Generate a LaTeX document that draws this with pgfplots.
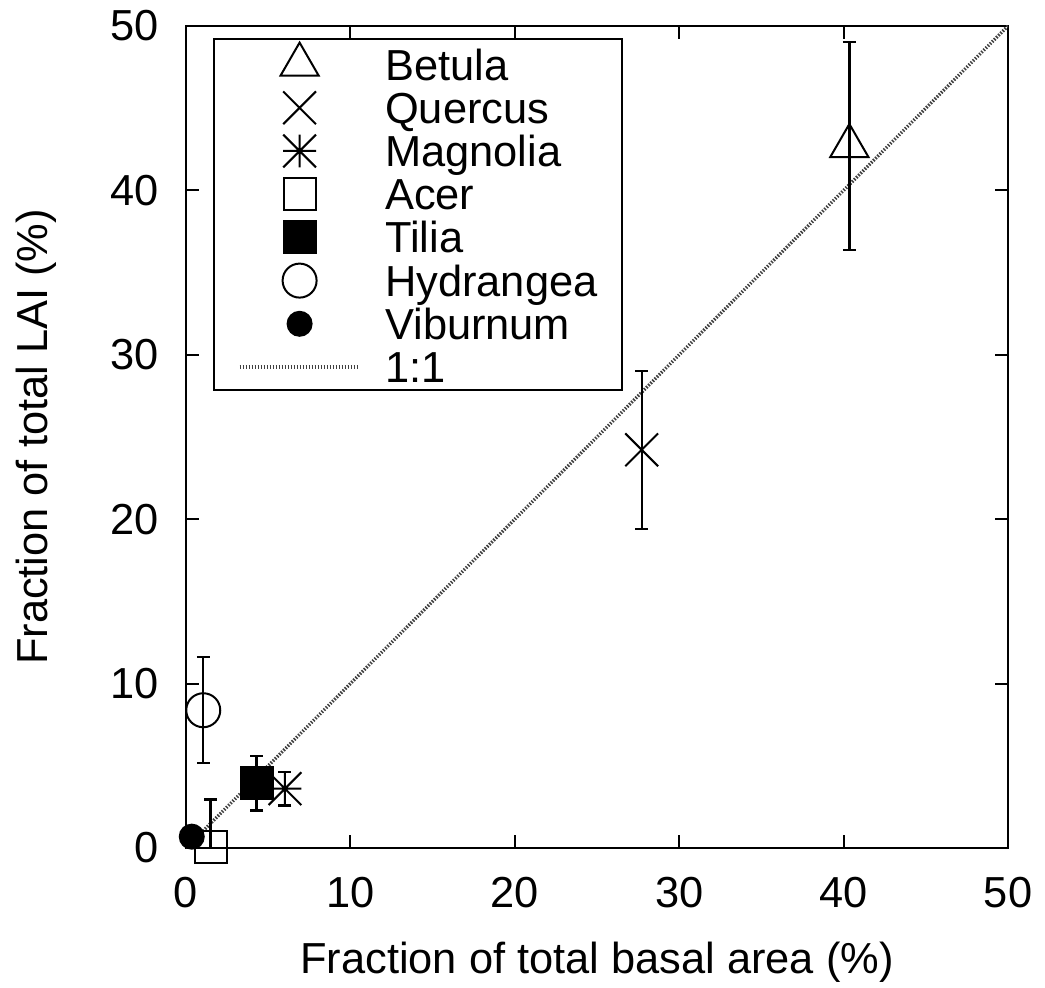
\documentclass[border=0pt]{standalone}
\usepackage{fontspec}
\setmainfont{Liberation Sans}
\usepackage{pgfplots}
\pgfplotsset{compat=1.18}
\newcommand\fsz{\fontsize{21.7}{26}\selectfont}
% gnuplot style asterisk: + and x together
\pgfdeclareplotmark{gpast}{%
  \pgfpathmoveto{\pgfqpoint{-\pgfplotmarksize}{0pt}}%
  \pgfpathlineto{\pgfqpoint{\pgfplotmarksize}{0pt}}%
  \pgfpathmoveto{\pgfqpoint{0pt}{-\pgfplotmarksize}}%
  \pgfpathlineto{\pgfqpoint{0pt}{\pgfplotmarksize}}%
  \pgfpathmoveto{\pgfqpoint{-\pgfplotmarksize}{-\pgfplotmarksize}}%
  \pgfpathlineto{\pgfqpoint{\pgfplotmarksize}{\pgfplotmarksize}}%
  \pgfpathmoveto{\pgfqpoint{-\pgfplotmarksize}{\pgfplotmarksize}}%
  \pgfpathlineto{\pgfqpoint{\pgfplotmarksize}{-\pgfplotmarksize}}%
  \pgfusepathqstroke}
% gnuplot style cross
\pgfdeclareplotmark{gpx}{%
  \pgfpathmoveto{\pgfqpoint{-\pgfplotmarksize}{-\pgfplotmarksize}}%
  \pgfpathlineto{\pgfqpoint{\pgfplotmarksize}{\pgfplotmarksize}}%
  \pgfpathmoveto{\pgfqpoint{-\pgfplotmarksize}{\pgfplotmarksize}}%
  \pgfpathlineto{\pgfqpoint{\pgfplotmarksize}{-\pgfplotmarksize}}%
  \pgfusepathqstroke}
\pgfplotsset{
  ebar/.style={error bars/.cd, y dir=both, y explicit,
    error bar style={line width=1.2pt, black},
    error mark options={line width=1.2pt, mark size=3.25pt, black, rotate=90}},
}
\begin{document}
\begin{tikzpicture}
\begin{axis}[
    scale only axis,
    width=411pt, height=411pt,
    xmin=0, xmax=50, ymin=0, ymax=50,
    xtick={0,10,...,50}, ytick={0,10,...,50},
    tick align=inside,
    major tick length=6.3pt,
    tick style={line width=1pt, black},
    axis line style={line width=1.1pt},
    /pgf/number format/assume math mode=true,
    tick label style={font=\fsz, inner sep=0pt},
    xticklabel style={yshift=-14.5pt},
    yticklabel style={xshift=-13.6pt},
    label style={font=\fsz},
    xlabel={Fraction of total basal area (\%)},
    ylabel={Fraction of total LAI (\%)},
    xlabel style={at={(axis description cs:0.5,-0.1387)}, anchor=center},
    ylabel style={at={(axis description cs:-0.1825,0.5)}, anchor=center},
    legend image code/.code={\draw[mark repeat=2,mark phase=2,yshift=-0.75pt,#1]
        plot coordinates {(0pt,0pt)(30pt,0pt)(60pt,0pt)};},
    legend cell align=left,
    legend style={at={(axis description cs:0,1)}, anchor=north west,
        xshift=13.5pt, yshift=-6pt, draw=black, line width=1pt,
        inner xsep=12pt, inner ysep=1.25pt, column sep=12pt, row sep=0pt,
        font=\fsz,
        nodes={inner sep=0pt, text height=19.35pt, text depth=2.25pt}},
]
% 1:1 line
\addplot[forget plot, black!75, line width=1.6pt, dash pattern=on 0.75pt off 0.75pt]
    coordinates {(0,0) (50,50)};

\addplot[only marks, black, mark=triangle, mark size=11pt,
    mark options={solid, line width=1pt}, ebar]
    coordinates {(40.35,42.7) +- (0,6.33)};
\addlegendentry{Betula}
\addplot[only marks, black, mark=gpx, mark size=8.2pt,
    mark options={solid, line width=1pt}, ebar]
    coordinates {(27.72,24.22) +- (0,4.81)};
\addlegendentry{Quercus}
\addplot[only marks, black, mark=gpast, mark size=8.2pt,
    mark options={solid, line width=1pt}, ebar]
    coordinates {(6.02,3.61) +- (0,1.03)};
\addlegendentry{Magnolia}
\addplot[only marks, black, mark=square, mark size=8pt,
    mark options={solid, line width=1pt},
    error bars/.cd, y dir=plus, y explicit,
    error bar style={line width=1.2pt, black},
    error mark options={line width=1.2pt, mark size=3.25pt, black, rotate=90}]
    coordinates {(1.50,0.05) +- (0,2.9)};
\addlegendentry{Acer}
\addplot[only marks, black, mark=square*, mark size=8pt,
    mark options={solid, line width=1pt, fill=black}, ebar]
    coordinates {(4.30,3.94) +- (0,1.67)};
\addlegendentry{Tilia}
\addplot[only marks, black, mark=o, mark size=8.5pt,
    mark options={solid, line width=1pt}, ebar]
    coordinates {(1.05,8.38) +- (0,3.22)};
\addlegendentry{Hydrangea}
\addplot[only marks, black, mark=*, mark size=6pt,
    mark options={solid, line width=1pt, fill=black}]
    coordinates {(0.35,0.69)};
\addlegendentry{Viburnum}
\addlegendimage{black!75, line width=1.6pt, dash pattern=on 0.75pt off 0.75pt}
\addlegendentry{1:1}
\end{axis}
\pgfresetboundingbox
\path[use as bounding box] ([xshift=-93pt,yshift=-69.5pt]current axis.south west)
    rectangle ([xshift=18.5pt,yshift=13pt]current axis.north east);
\end{tikzpicture}
\end{document}
